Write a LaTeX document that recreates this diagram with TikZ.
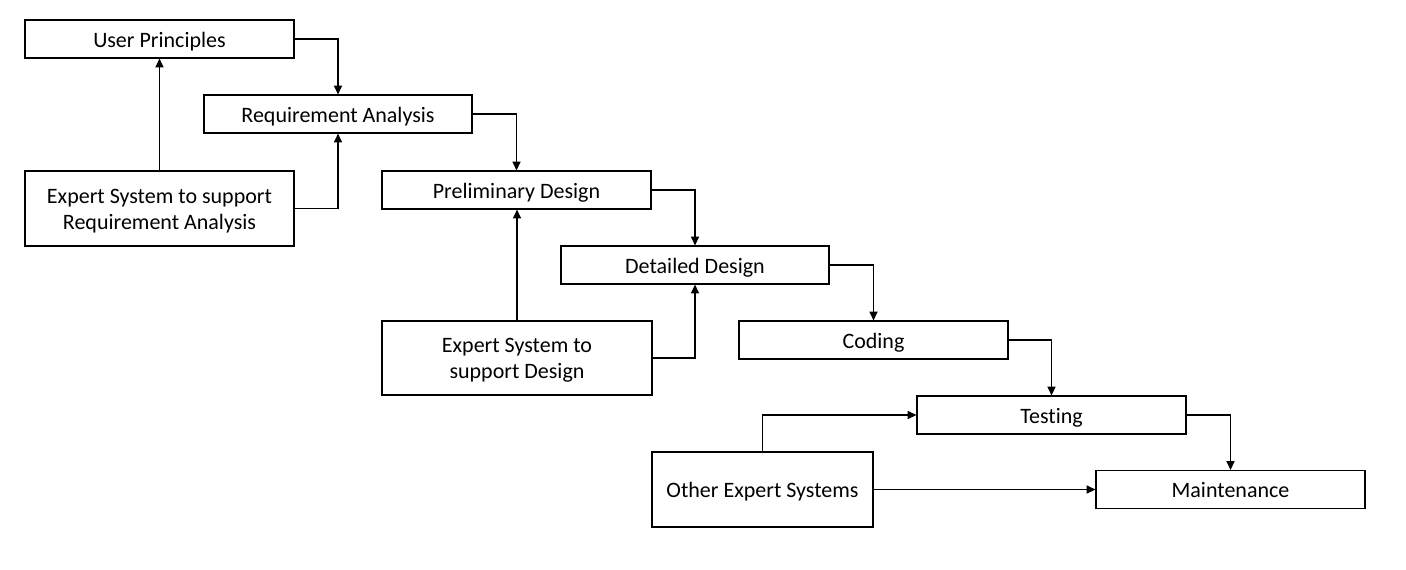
\documentclass[tikz,border=0pt]{standalone}
\usepackage{fontspec}
\setmainfont{Carlito}[Ligatures=NoCommon]
\usepackage{tikz}
\usetikzlibrary{arrows.meta,positioning}
\newcommand{\tall}{\rule{0pt}{14.5pt}}

\begin{document}
\begin{tikzpicture}[x=0.75pt,y=-0.75pt,
       box/.style={rectangle,draw,minimum height=28.5pt,inner sep=0pt,align=center,
                   font=\fontsize{16.5}{19.5}\selectfont},
       one/.style={text height=14pt,text depth=2pt},
       line width=0.9pt, >={Triangle[length=6.5pt,width=6pt]}]
   \useasboundingbox (0,0) rectangle (1406,569);
   % the waterfall
   \node [box,one,minimum width=201.75pt] (up)  at (159.5,39)   {User Principles};
   \node [box,one,minimum width=201pt]    (ra)  at (338,114)    {Requirement Analysis};
   \node [box,one,minimum width=201.75pt] (pd)  at (516.5,190)  {Preliminary Design};
   \node [box,one,minimum width=201pt]    (dd)  at (695,265)    {Detailed Design};
   \node [box,one,minimum width=201.75pt] (cod) at (873.5,340)  {Coding};
   \node [box,one,minimum width=201.75pt] (tst) at (1051.5,415) {Testing};
   \node [box,one,minimum width=201.75pt] (mnt) at (1230.5,489.5) {Maintenance};
   % the expert systems
   \node [box,minimum width=201.75pt,minimum height=56.25pt] (esra) at (159.5,208.5) {\tall Expert System to support\\Requirement Analysis};
   \node [box,minimum width=202.5pt,minimum height=55.5pt]   (esd)  at (517,358)     {\tall Expert System to\\support Design};
   \node [box,one,minimum width=165.75pt,minimum height=56.25pt] (oes) at (762.5,489.5) {Other Expert Systems};
   \foreach \a/\b in {up/ra,ra/pd,pd/dd,dd/cod,cod/tst,tst/mnt}
       \draw [->] (\a.east) -| (\b.north);
   \draw [->] (esra.north) -- (up.south);
   \draw [->] (esra.east) -| (ra.south);
   \draw [->] (esd.north) -- (esd.north |- pd.south);
   \draw [->] (esd.east) -| (dd.south);
   \draw [->] (oes.north) |- (tst.west);
   \draw [->] (oes.east) -- (mnt.west);
\end{tikzpicture}
\end{document}
